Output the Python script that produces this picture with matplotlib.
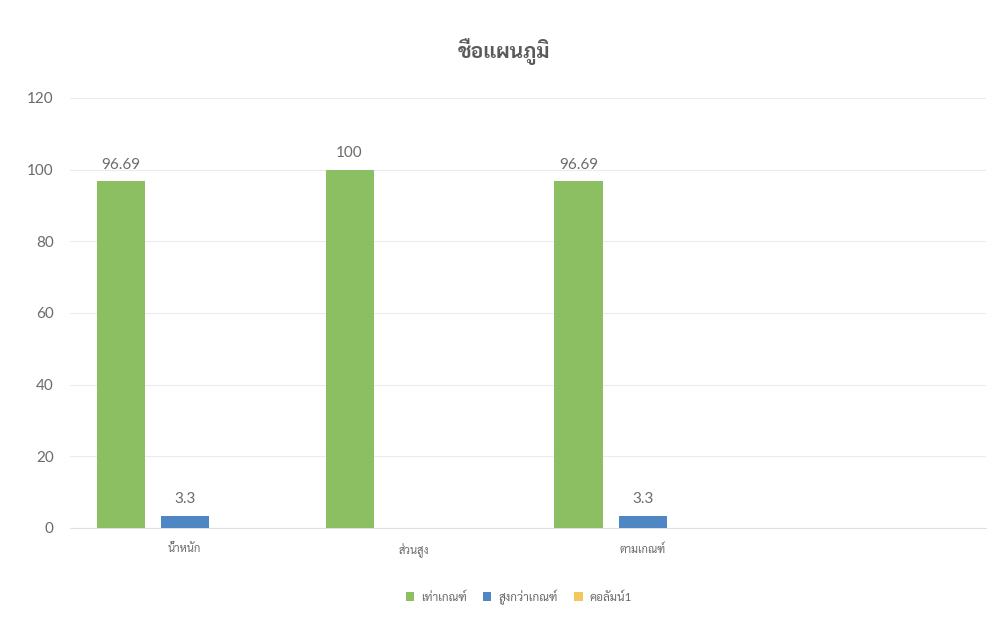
import numpy as np
import matplotlib
matplotlib.use('Agg')
import matplotlib.pyplot as plt

plt.rcParams['font.family'] = ['Lato', 'Sarabun', 'DejaVu Sans']

categories = ['น้ำหนัก', 'ส่วนสูง', 'ตามเกณฑ์', '']
series_names = ['เท่าเกณฑ์', 'สูงกว่าเกณฑ์', 'คอลัมน์1']
normal = [96.69, 100, 96.69, np.nan]
above = [3.3, np.nan, 3.3, np.nan]
col1 = [np.nan, np.nan, np.nan, np.nan]
colors = ['#8cbf62', '#4f86c4', '#f2c75c']

fig = plt.figure(figsize=(9.89, 6.23), dpi=100)
ax = fig.add_axes([0.071, 0.1525, 0.926, 0.6905])

x = np.arange(len(categories))
w = 0.21
off = 0.28
for i, (vals, name, c) in enumerate(zip([normal, above, col1], series_names, colors)):
    bars = ax.bar(x + (i - 1) * off, vals, w, color=c, label=name, zorder=3)
    labels = ['' if np.isnan(v) else ('%g' % v) for v in vals]
    ax.bar_label(bars, labels=labels, padding=7, fontsize=11, color='#6b6b6b')

ax.set_xlim(-0.5, len(categories) - 0.5)
ax.set_ylim(0, 120)
ax.set_yticks(range(0, 121, 20))
ax.set_xticks(x)
ax.set_xticklabels(categories, fontsize=8, color='#6b6b6b')
ax.tick_params(axis='y', labelsize=11, labelcolor='#6b6b6b', length=0, pad=12)
ax.tick_params(axis='x', length=0, pad=11)
ax.grid(axis='y', color='#ececec', linewidth=0.8, zorder=0)
for s in ['top', 'right', 'left']:
    ax.spines[s].set_visible(False)
ax.spines['bottom'].set_color('#e0e0e0')

fig.text(0.51, 0.918, 'ชื่อแผนภูมิ', ha='center', va='center', fontsize=15,
         fontweight='bold', color='#5a5a5a')

ax.legend(loc='center', bbox_to_anchor=(0.49, -0.16), ncol=3, frameon=False,
          fontsize=8.5, handlelength=0.7, handleheight=0.7, columnspacing=1.4,
          handletextpad=0.6, labelcolor='#6b6b6b')

fig.savefig('out.png')
